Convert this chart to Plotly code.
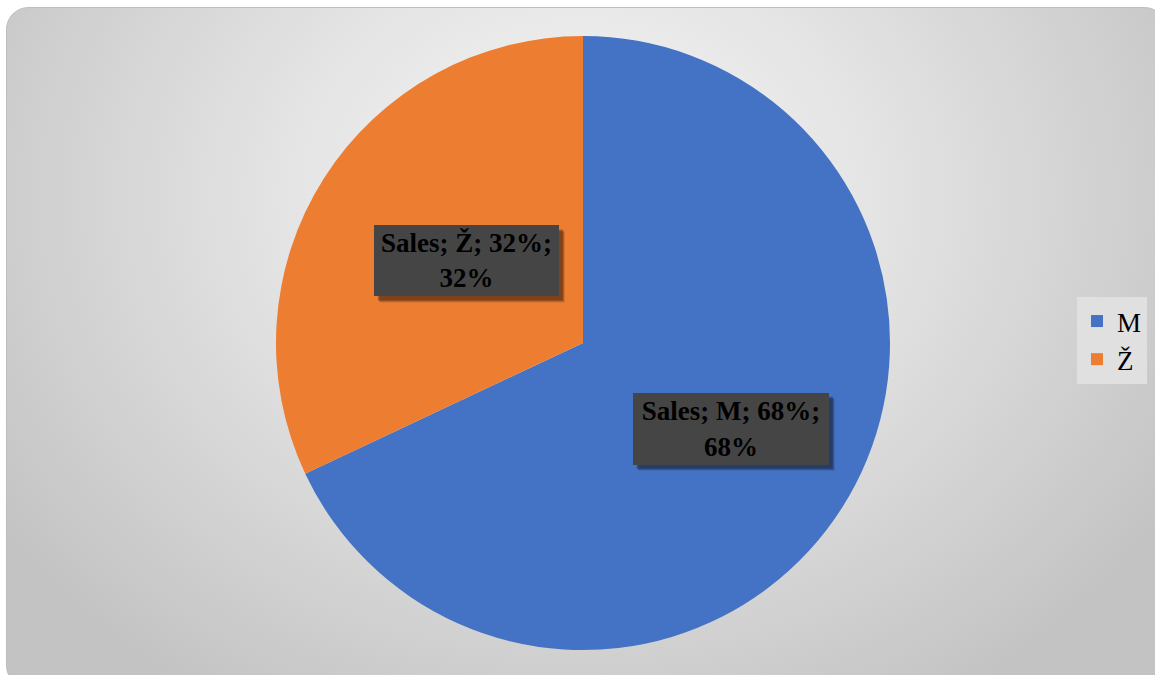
import base64, math
import plotly.graph_objects as go

# ---- data ----
categories = ["M", "Ž"]
values = [68, 32]
series_name = "Sales"
colors = ["#4472C4", "#ED7D31"]

OFF = 0                     # body margin removed via post_script
SW, SH = 1155, 675          # screen size
W, H = SW - OFF, SH - OFF   # figure size
FONT = "Liberation Serif"


def px(sx):
    return (sx - OFF) / W


def py(sy):
    return 1 - (sy - OFF) / H


# background: rounded rectangle with radial grey gradient (light centre upper-middle)
svg = (
    "<svg xmlns='http://www.w3.org/2000/svg' width='1149' height='668' viewBox='0 0 1149 668'>"
    "<defs><radialGradient id='g' gradientUnits='userSpaceOnUse' cx='572' cy='190' r='700' "
    "gradientTransform='translate(572,190) scale(1,0.85) translate(-572,-190)'>"
    "<stop offset='0' stop-color='#f7f7f7'/>"
    "<stop offset='0.42' stop-color='#e4e4e4'/>"
    "<stop offset='1' stop-color='#c3c3c3'/>"
    "</radialGradient></defs>"
    "<rect x='0.5' y='0.5' width='1160' height='680' rx='22' ry='22' fill='url(#g)' stroke='#bdbdbd' stroke-width='1'/>"
    "</svg>"
)
bg_src = "data:image/svg+xml;base64," + base64.b64encode(svg.encode()).decode()

# pie domain (screen px -> paper)
dx0, dx1 = px(276), px(890)
dy0, dy1 = py(650), py(36)

fig = go.Figure()
fig.add_trace(go.Pie(
    labels=categories,
    values=values,
    sort=False,
    direction="clockwise",
    rotation=0,
    marker=dict(colors=colors, line=dict(width=0)),
    textinfo="none",
    hoverinfo="skip",
    domain=dict(x=[dx0, dx1], y=[dy0, dy1]),
    showlegend=True,
))

# data labels placed at slice mid-angles
cx_f = (dx0 + dx1) / 2 * W
cy_f = (dy0 + dy1) / 2 * H
r_f = min((dx1 - dx0) * W, (dy1 - dy0) * H) / 2
total = sum(values)
cum = 0
frac_r = [0.57, 0.45]
lift = 8
box_w = [196, 185]
box_h = [72, 71]
annotations = []
shapes = []
for i, (cat, v) in enumerate(zip(categories, values)):
    mid = (cum + v / 2) / total * 2 * math.pi
    cum += v
    ax = cx_f + frac_r[i] * r_f * math.sin(mid)
    ay = cy_f + frac_r[i] * r_f * math.cos(mid) + lift
    pct = round(v / total * 100)
    txt = f"<b>{series_name}; {cat}; {pct}%;<br>{pct}%</b>"
    bw, bh = box_w[i], box_h[i]
    # soft drop shadow
    for s, a in [(6, 0.12), (5, 0.18), (4, 0.25)]:
        shapes.append(dict(
            type="rect", xref="paper", yref="paper", layer="above",
            x0=(ax - bw / 2 + s) / W, x1=(ax + bw / 2 + s) / W,
            y0=(ay - bh / 2 - s) / H, y1=(ay + bh / 2 - s) / H,
            line=dict(width=0), fillcolor=f"rgba(0,0,0,{a})",
        ))
    annotations.append(dict(
        x=ax / W, y=ay / H, xref="paper", yref="paper", text=txt, showarrow=False,
        font=dict(family=FONT, size=27, color="#000000"),
        bgcolor="#454545", borderpad=0, borderwidth=0,
        width=bw, height=bh, align="center", valign="middle",
    ))

fig.update_layout(
    width=W, height=H,
    margin=dict(l=0, r=0, t=0, b=0),
    paper_bgcolor="white",
    images=[dict(source=bg_src, xref="paper", yref="paper", x=px(6), y=py(7),
                 sizex=1149 / W, sizey=668 / H, xanchor="left", yanchor="top",
                 sizing="stretch", layer="below")],
    shapes=shapes,
    annotations=annotations,
    legend=dict(
        x=px(1077), y=py(297), xanchor="left", yanchor="top",
        bgcolor="#e0e0e0", font=dict(family=FONT, size=27, color="#000000"),
        itemwidth=30, tracegroupgap=0,
    ),
)

fig.write_html(
    "out.html",
    config={"displayModeBar": False},
    post_script="document.body.style.margin='0';document.body.style.overflow='hidden';",
)
